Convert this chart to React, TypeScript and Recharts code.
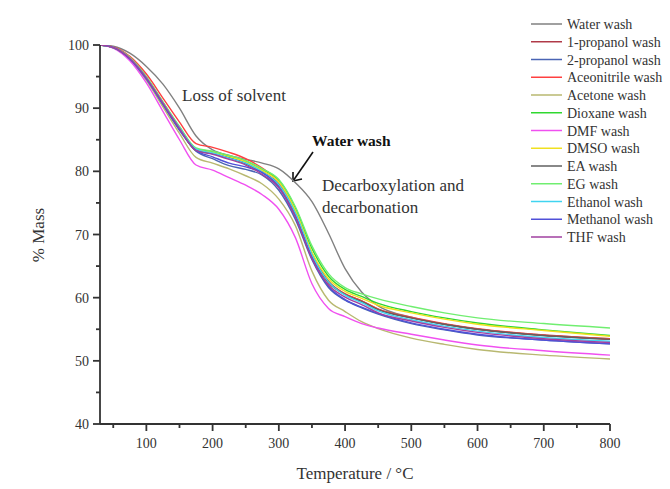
import React from 'react';
import { LineChart, Line, XAxis, YAxis, Customized } from 'recharts';

// temperature grid (°C) shared by every curve
const temps = [30, 50, 75, 100, 125, 150, 175, 200, 225, 250, 275, 300, 325, 350, 375, 400, 425, 450, 500, 550, 600, 700, 800];

// % mass
const waterWash = [100, 99.8, 98.7, 96.6, 93.8, 90.0, 85.6, 83.4, 82.5, 81.9, 81.3, 80.4, 78.2, 75.2, 70.2, 64.6, 60.9, 58.7, 56.9, 55.8, 55.0, 54.1, 53.5];
const propanol1Wash = [100, 99.6, 97.9, 94.8, 90.8, 86.8, 83.4, 82.9, 82.2, 81.3, 79.9, 78.0, 73.6, 67.0, 62.6, 60.6, 59.5, 58.2, 56.8, 55.8, 55.0, 54.0, 53.4];
const propanol2Wash = [100, 99.6, 97.8, 94.6, 90.5, 86.5, 83.2, 82.0, 80.9, 80.3, 79.4, 77.0, 72.4, 66.0, 61.6, 59.6, 58.4, 57.4, 55.9, 54.9, 54.1, 53.3, 52.7];
const aceonitrileWash = [100, 99.7, 98.2, 95.4, 91.6, 87.8, 84.4, 83.8, 83.0, 82.0, 80.5, 78.3, 73.4, 66.8, 62.4, 60.6, 59.5, 58.2, 56.9, 55.9, 55.1, 54.1, 53.5];
const acetoneWash = [100, 99.6, 97.7, 94.4, 90.2, 86.0, 82.2, 81.3, 80.4, 79.3, 78.0, 75.6, 71.4, 64.2, 59.6, 57.8, 56.2, 55.1, 53.6, 52.6, 51.8, 50.9, 50.3];
const dioxaneWash = [100, 99.6, 98.0, 94.9, 90.9, 87.0, 83.6, 83.1, 82.4, 81.6, 80.3, 78.6, 74.2, 67.8, 63.4, 61.3, 60.2, 59.1, 57.8, 56.8, 56.0, 54.9, 54.0];
const dmfWash = [100, 99.5, 97.5, 94.0, 89.5, 85.0, 81.0, 80.2, 79.0, 77.8, 76.3, 74.0, 69.5, 62.2, 58.3, 57.0, 55.9, 55.2, 54.2, 53.3, 52.5, 51.6, 50.9];
const dmsoWash = [100, 99.6, 98.0, 94.9, 90.9, 86.9, 83.5, 83.0, 82.3, 81.5, 80.1, 78.3, 73.8, 67.2, 63.0, 61.0, 59.9, 58.8, 57.6, 56.6, 55.8, 54.8, 53.9];
const eaWash = [100, 99.6, 97.9, 94.8, 90.8, 86.8, 83.3, 82.8, 82.1, 81.2, 79.8, 77.8, 73.2, 66.6, 62.4, 60.5, 59.4, 58.1, 56.8, 55.8, 55.0, 54.0, 53.4];
const egWash = [100, 99.6, 98.0, 95.0, 91.0, 87.1, 83.7, 83.2, 82.5, 81.7, 80.4, 78.7, 74.4, 68.2, 63.8, 61.6, 60.6, 59.8, 58.6, 57.6, 56.8, 55.9, 55.2];
const ethanolWash = [100, 99.6, 97.9, 94.8, 90.8, 86.9, 83.5, 82.9, 82.1, 81.3, 79.9, 77.9, 73.4, 66.8, 62.5, 60.4, 59.2, 57.9, 56.5, 55.5, 54.7, 53.7, 53.1];
const methanolWash = [100, 99.6, 97.8, 94.6, 90.6, 86.6, 83.3, 82.3, 81.3, 80.7, 79.8, 77.5, 72.8, 66.3, 61.8, 59.7, 58.5, 57.5, 56.0, 55.0, 54.2, 53.3, 52.7];
const thfWash = [100, 99.6, 97.9, 94.8, 90.8, 86.8, 83.3, 82.7, 81.9, 81.0, 79.5, 77.4, 72.8, 66.2, 62.0, 60.1, 58.9, 57.6, 56.3, 55.3, 54.5, 53.5, 52.9];

const xTicks = [50, 100, 150, 200, 250, 300, 350, 400, 450, 500, 550, 600, 650, 700, 750, 800];
const yTicks = [40, 45, 50, 55, 60, 65, 70, 75, 80, 85, 90, 95, 100];

const seriesList = [
    { key: 'water', name: 'Water wash', color: '#808080', values: waterWash },
    { key: 'prop1', name: '1-propanol wash', color: '#b03a48', values: propanol1Wash },
    { key: 'prop2', name: '2-propanol wash', color: '#4a64b4', values: propanol2Wash },
    { key: 'acn', name: 'Aceonitrile wash', color: '#ff4040', values: aceonitrileWash },
    { key: 'acetone', name: 'Acetone wash', color: '#b8b870', values: acetoneWash },
    { key: 'dioxane', name: 'Dioxane wash', color: '#30d830', values: dioxaneWash },
    { key: 'dmf', name: 'DMF wash', color: '#f050f0', values: dmfWash },
    { key: 'dmso', name: 'DMSO wash', color: '#f0e020', values: dmsoWash },
    { key: 'ea', name: 'EA wash', color: '#606060', values: eaWash },
    { key: 'eg', name: 'EG wash', color: '#70ee70', values: egWash },
    { key: 'ethanol', name: 'Ethanol wash', color: '#40d4f0', values: ethanolWash },
    { key: 'methanol', name: 'Methanol wash', color: '#5050d8', values: methanolWash },
    { key: 'thf', name: 'THF wash', color: '#a040a0', values: thfWash },
];

const chartData = temps.map((t, i) => {
    const row: any = { t };
    seriesList.forEach((s) => {
        row[s.key] = s.values[i];
    });
    return row;
});

const FONT = '"Liberation Serif", "Times New Roman", serif';
const AXIS = '#333';

// tick text sits tickSize + tickMargin away from the axis line
const YTick = (props: any) => {
    const { x, y, payload } = props;
    const axisX = x + 11;
    const major = payload.value % 10 === 0;
    return (
        <g>
            <line x1={axisX - (major ? 7 : 4)} x2={axisX} y1={y} y2={y} stroke={AXIS} strokeWidth={1.8} />
            {major && (
                <text x={axisX - 11} y={y} dy={5} textAnchor="end" fontSize={14} fontFamily={FONT} fill="#333">
                    {payload.value}
                </text>
            )}
        </g>
    );
};

const XTick = (props: any) => {
    const { x, y, payload } = props;
    const axisY = y - 11;
    const major = payload.value % 100 === 0;
    return (
        <g>
            <line x1={x} x2={x} y1={axisY} y2={axisY + (major ? 7 : 4)} stroke={AXIS} strokeWidth={1.8} />
            {major && (
                <text x={x} y={axisY + 24} textAnchor="middle" fontSize={14} fontFamily={FONT} fill="#333">
                    {payload.value}
                </text>
            )}
        </g>
    );
};

const Annotations = () => (
    <g fontFamily={FONT} fill="#333">
        <text x={182} y={101} fontSize={17}>Loss of solvent</text>
        <text x={312} y={146} fontSize={15.5} fontWeight="bold" fill="#111">Water wash</text>
        <line x1={313} y1={152} x2={293} y2={181} stroke="#111" strokeWidth={1.6} />
        <polyline points="293,172 293,181 302,179" fill="none" stroke="#111" strokeWidth={1.6} />
        <text x={322} y={191} fontSize={17}>Decarboxylation and</text>
        <text x={322} y={213} fontSize={17}>decarbonation</text>
        <text x={355} y={479} fontSize={17} textAnchor="middle">Temperature / °C</text>
        <text x={44} y={235} fontSize={17} textAnchor="middle" transform="rotate(-90 44 235)">% Mass</text>
        {seriesList.map((s, i) => (
            <g key={s.key}>
                <line x1={531} x2={562} y1={24 + i * 17.75} y2={24 + i * 17.75} stroke={s.color} strokeWidth={1.5} />
                <text x={567} y={24 + i * 17.75} dy={5} fontSize={14}>{s.name}</text>
            </g>
        ))}
    </g>
);

const App: React.FC = () => {
    return (
        <div style={{ position: 'absolute', top: 0, left: 0, width: 670, height: 489, background: '#fff' }}>
            <LineChart width={670} height={489} data={chartData} margin={{ top: 45, right: 60, bottom: 0, left: 0 }}>
                <XAxis
                    dataKey="t"
                    type="number"
                    domain={[30, 800]}
                    ticks={xTicks}
                    interval={0}
                    height={65}
                    tickSize={7}
                    tickMargin={4}
                    tickLine={false}
                    axisLine={{ stroke: AXIS, strokeWidth: 1.8 }}
                    tick={<XTick />}
                    allowDataOverflow
                />
                <YAxis
                    type="number"
                    domain={[40, 100]}
                    ticks={yTicks}
                    interval={0}
                    width={100}
                    tickSize={7}
                    tickMargin={4}
                    tickLine={false}
                    axisLine={{ stroke: AXIS, strokeWidth: 1.8 }}
                    tick={<YTick />}
                    allowDataOverflow
                />
                {seriesList.map((s) => (
                    <Line
                        key={s.key}
                        type="monotone"
                        dataKey={s.key}
                        name={s.name}
                        stroke={s.color}
                        strokeWidth={1.4}
                        dot={false}
                        isAnimationActive={false}
                    />
                ))}
                <Customized component={<Annotations />} />
            </LineChart>
        </div>
    );
};

export default App;
